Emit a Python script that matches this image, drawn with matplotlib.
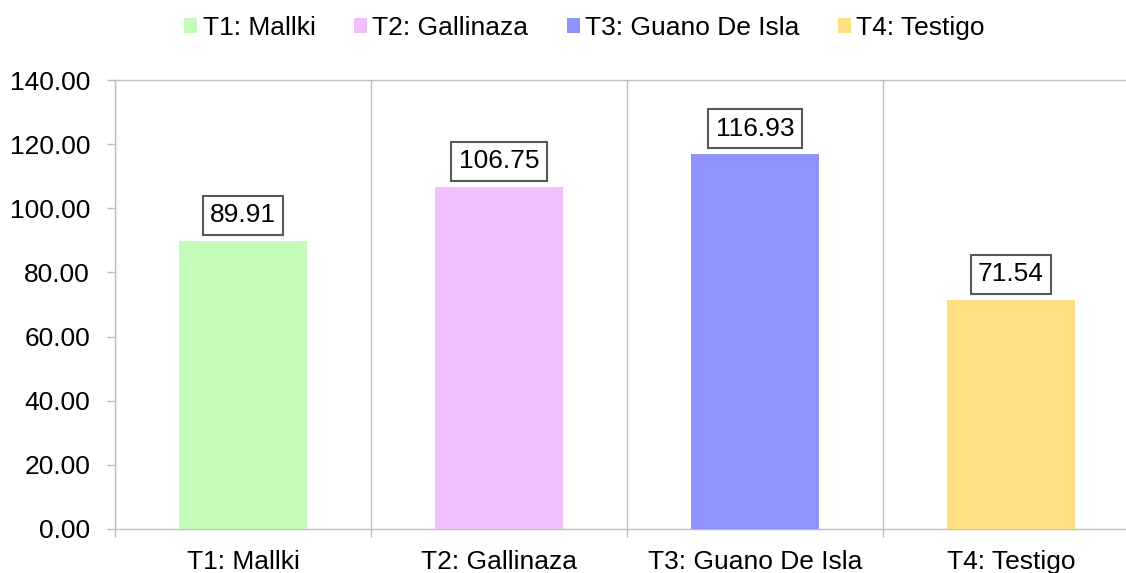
import numpy as np
import matplotlib.pyplot as plt
from matplotlib.patches import Patch

plt.rcParams["font.family"] = ["Liberation Sans", "DejaVu Sans"]

# datos
tratamientos = ["T1: Mallki", "T2: Gallinaza", "T3: Guano De Isla", "T4: Testigo"]
valores = [89.91, 106.75, 116.93, 71.54]
colores = ["#C3FCB9", "#F3BEFC", "#9093FE", "#FEE083"]
y_ticks = [0, 20, 40, 60, 80, 100, 120, 140]

gris = "#BFBFBF"
fs = 19

fig = plt.figure(figsize=(11.26, 5.73), dpi=100)
ax = fig.add_axes([115 / 1126, 44 / 573, 1024 / 1126, 449 / 573])

x = np.arange(len(tratamientos))
ax.bar(x, valores, width=0.5, color=colores, zorder=3)

# etiquetas de valor con recuadro
for xi, v in zip(x, valores):
    ax.annotate(
        f"{v:.2f}",
        xy=(xi, v),
        xytext=(0, 9.5),
        textcoords="offset points",
        ha="center",
        va="bottom",
        fontsize=fs,
        bbox=dict(boxstyle="square,pad=0.28", fc="white", ec="#595959", lw=1.5),
        zorder=4,
    )

ax.set_xlim(-0.5, len(tratamientos) - 0.5)
ax.set_ylim(0, 140)
ax.set_yticks(y_ticks)
ax.set_yticklabels([f"{t:.2f}" for t in y_ticks], fontsize=fs)
ax.set_xticks(x)
ax.set_xticklabels(tratamientos, fontsize=fs)
ax.set_xticks(np.arange(len(tratamientos) + 1) - 0.5, minor=True)

ax.tick_params(axis="x", which="major", length=0, pad=15)
ax.tick_params(axis="x", which="minor", length=6, width=1, color=gris)
ax.tick_params(axis="y", length=6, width=1, color=gris, pad=12)
ax.grid(True, axis="x", which="minor", color=gris, lw=1, zorder=0)

for s in ["left", "bottom", "top", "right"]:
    ax.spines[s].set_color(gris)
    ax.spines[s].set_linewidth(1)

handles = [Patch(facecolor=c, edgecolor="none") for c in colores]
fig.legend(
    handles,
    tratamientos,
    loc="center",
    bbox_to_anchor=(0.519, 1 - 28 / 573),
    ncol=4,
    frameon=False,
    fontsize=fs,
    handlelength=0.5,
    handleheight=0.5,
    handletextpad=0.2,
    columnspacing=1.45,
)

plt.savefig("out.png", dpi=100)
